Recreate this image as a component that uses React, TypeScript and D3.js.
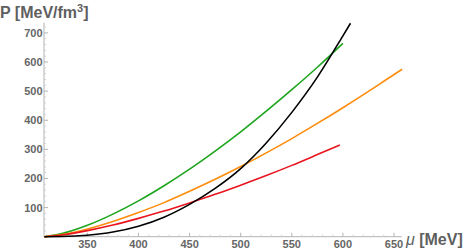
import * as d3 from 'd3'

// chemical potential grid (MeV)
const mu = [308, 325, 350, 375, 400, 425, 450, 475, 500, 525, 550, 575, 600]

// pressure curves (MeV/fm^3)
const greenP = [0, 10.5, 39, 77.5, 123, 175, 232, 294, 360, 431, 505, 582, 664]
const orangeP = [0, 7.2, 26.6, 52.4, 83, 117, 156, 197, 241, 288, 337, 389, 443, 499, 557, 575]
const orangeMu = [...mu, 625, 650, 658]
const redP = [0, 5.8, 20.8, 40, 63, 88, 116, 145.5, 177, 210, 245, 282, 315]
const redMu = [308, 325, 350, 375, 400, 425, 450, 475, 500, 525, 550, 575, 597]
const blackP = [0, 0.5, 4.9, 16, 36, 67, 111, 166, 234, 322, 427, 548, 690, 733]
const blackMu = [...mu, 607.4]

const xTicks = [350, 400, 450, 500, 550, 600, 650]
const yTicks = [100, 200, 300, 400, 500, 600, 700]

export default function App() {
  const x = d3.scaleLinear().domain([307.6, 657.5]).range([44, 401.7])
  const y = d3.scaleLinear().domain([0, 735]).range([236.7, 22.7])

  const line = (xs: number[], ys: number[]) =>
    d3.line<number>()
      .x((d, i) => x(xs[i]))
      .y(d => y(d))
      .curve(d3.curveMonotoneX)(ys) || ''

  const series = [
    { xs: mu, ys: greenP, color: '#1ea51e' },
    { xs: orangeMu, ys: orangeP, color: '#ff8c0a' },
    { xs: redMu, ys: redP, color: '#e8141e' },
    { xs: blackMu, ys: blackP, color: '#000' },
  ]

  const xMinor = d3.range(310, 660, 10).filter(v => v % 50 !== 0)
  const yMinor = d3.range(20, 735, 20).filter(v => v % 100 !== 0)
  const axisCol = '#b3b3b3'
  const labelCol = '#666'

  return (
    <svg width={463} height={251} style={{ position: 'absolute', left: 0, top: 0 }}
      fontFamily="'Liberation Sans', Arial, sans-serif">
      {/* axes */}
      <line x1={44} x2={401.7} y1={y(0)} y2={y(0)} stroke={axisCol} />
      <line x1={44} x2={44} y1={y(0)} y2={22.7} stroke={axisCol} />
      {xMinor.map(v => (
        <line key={'xm' + v} x1={x(v)} x2={x(v)} y1={y(0)} y2={y(0) - 2} stroke="#d0d0d0" />
      ))}
      {yMinor.map(v => (
        <line key={'ym' + v} x1={44} x2={46} y1={y(v)} y2={y(v)} stroke="#d0d0d0" />
      ))}
      {xTicks.map(v => (
        <g key={'x' + v}>
          <line x1={x(v)} x2={x(v)} y1={y(0)} y2={y(0) - 4} stroke={axisCol} />
          <text x={x(v)} y={247.5} textAnchor="middle" fontSize={11} fontWeight="bold" fill={labelCol}>{v}</text>
        </g>
      ))}
      {yTicks.map(v => (
        <g key={'y' + v}>
          <line x1={44} x2={48} y1={y(v)} y2={y(v)} stroke={axisCol} />
          <text x={42.5} y={y(v) + 4} textAnchor="end" fontSize={11} fontWeight="bold" fill={labelCol}>{v}</text>
        </g>
      ))}

      {/* curves */}
      {series.map((s, i) => (
        <path key={i} d={line(s.xs, s.ys)} fill="none" stroke={s.color} strokeWidth={1.6} />
      ))}

      {/* axis labels */}
      <text x={0} y={17.5} fontSize={16} fontWeight="bold" fill="#5f5f5f">
        P [MeV/fm<tspan dy={-6} fontSize={11}>3</tspan><tspan dy={6}>]</tspan>
      </text>
      <text x={406} y={245} fontSize={16} fill="#5f5f5f">
        <tspan fontStyle="italic">μ</tspan><tspan fontWeight="bold"> [MeV]</tspan>
      </text>
    </svg>
  )
}
